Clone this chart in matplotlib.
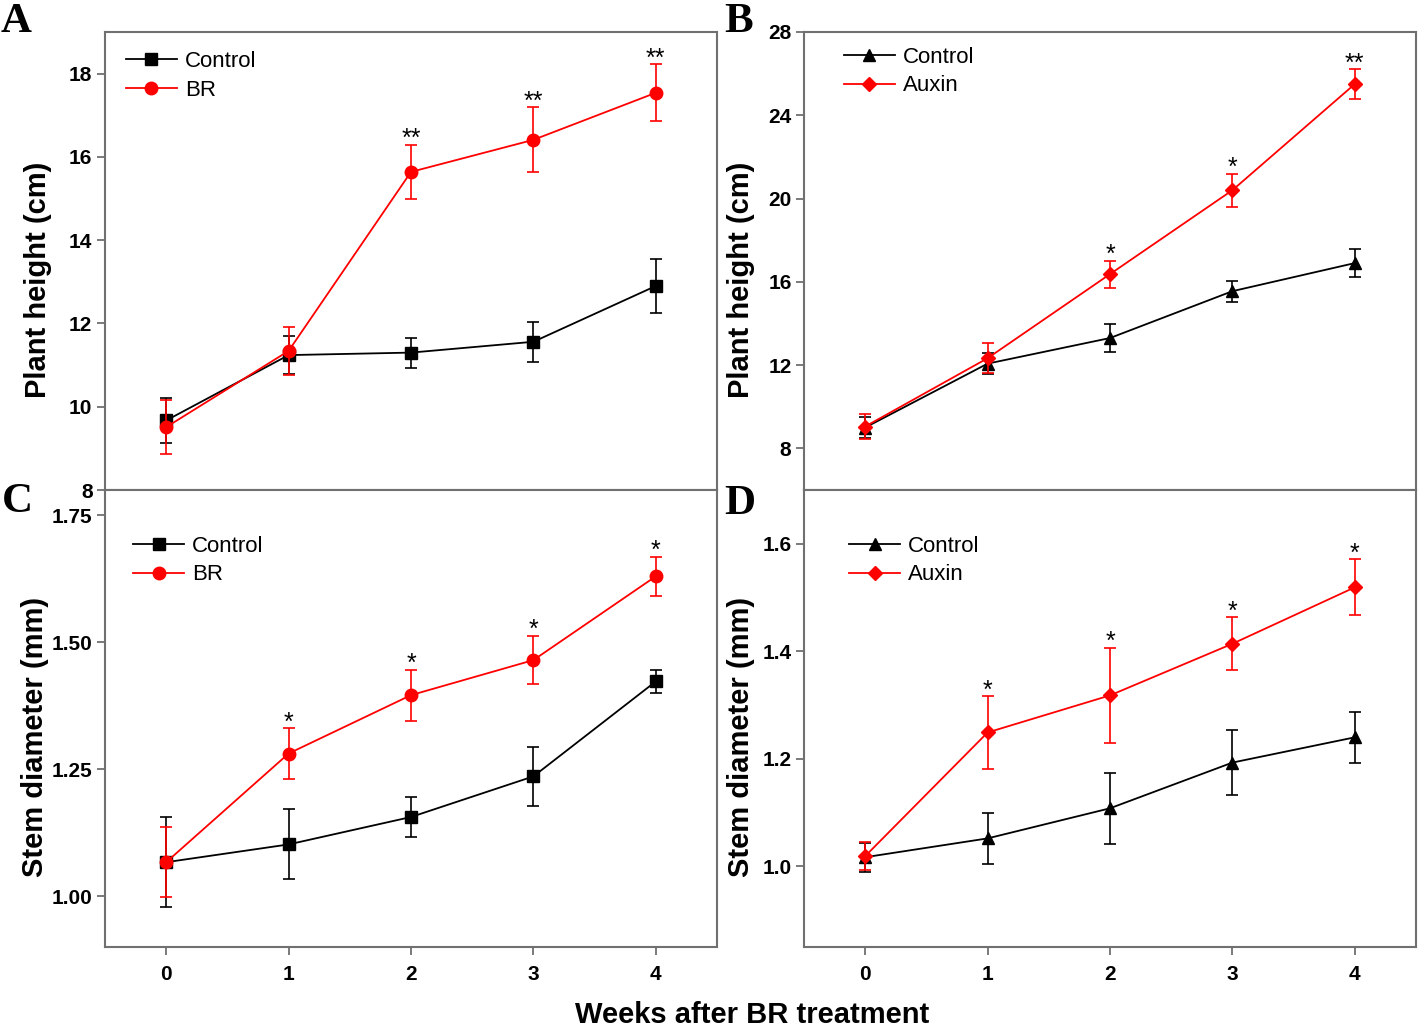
import matplotlib
matplotlib.use("Agg")
import matplotlib.pyplot as plt
import numpy as np

weeks = [0, 1, 2, 3, 4]

# Panel A: plant height (cm), Control vs BR
a_ctrl = [9.67, 11.24, 11.30, 11.56, 12.90]
a_ctrl_err = [0.55, 0.46, 0.36, 0.48, 0.66]
a_br = [9.51, 11.34, 15.64, 16.41, 17.54]
a_br_err = [0.64, 0.57, 0.65, 0.78, 0.68]
a_stars = ["", "", "**", "**", "**"]

# Panel B: plant height (cm), Control vs Auxin
b_ctrl = [9.00, 12.07, 13.30, 15.55, 16.90]
b_ctrl_err = [0.50, 0.50, 0.65, 0.50, 0.68]
b_aux = [9.05, 12.33, 16.37, 20.40, 25.50]
b_aux_err = [0.62, 0.72, 0.65, 0.80, 0.70]
b_stars = ["", "", "*", "*", "**"]

# Panel C: stem diameter (mm), Control vs BR
c_ctrl = [1.067, 1.102, 1.156, 1.236, 1.423]
c_ctrl_err = [0.089, 0.069, 0.039, 0.058, 0.022]
c_br = [1.067, 1.281, 1.396, 1.465, 1.630]
c_br_err = [0.069, 0.050, 0.050, 0.048, 0.039]
c_stars = ["", "*", "*", "*", "*"]

# Panel D: stem diameter (mm), Control vs Auxin
d_ctrl = [1.017, 1.052, 1.108, 1.193, 1.240]
d_ctrl_err = [0.027, 0.047, 0.066, 0.061, 0.047]
d_aux = [1.019, 1.249, 1.318, 1.414, 1.519]
d_aux_err = [0.026, 0.067, 0.089, 0.049, 0.052]
d_stars = ["", "*", "*", "*", "*"]

RED = "#ff0000"
SPINE = "#707070"

fig = plt.figure(figsize=(14.18, 10.27), dpi=100)
W, H = 1418.0, 1027.0

def axes_px(left, top, right, bottom):
    return fig.add_axes([left / W, 1 - bottom / H, (right - left) / W, (bottom - top) / H])

axA = axes_px(105, 32, 717, 490)
axB = axes_px(804, 32, 1416, 490)
axC = axes_px(105, 490, 717, 947)
axD = axes_px(804, 490, 1416, 947)

tick_font = dict(family="Liberation Sans", weight="bold", size=15)

def style(ax, ylim, yticks, yfmt, xlabels):
    ax.set_xlim(-0.5, 4.5)
    ax.set_ylim(*ylim)
    ax.set_xticks(weeks)
    ax.set_yticks(yticks)
    ax.set_yticklabels([yfmt.format(v) for v in yticks], fontdict=tick_font)
    if xlabels:
        ax.set_xticklabels([str(w) for w in weeks], fontdict=tick_font)
    else:
        ax.set_xticklabels([])
    ax.tick_params(axis="both", direction="out", length=6, width=1.3, color=SPINE, pad=3)
    ax.tick_params(axis="x", pad=7)
    for s in ax.spines.values():
        s.set_color(SPINE)
        s.set_linewidth(1.5)

def plot_panel(ax, ctrl, ctrl_err, trt, trt_err, cmark, tmark, cms, tms, tlabel, stars, star_off):
    ax.errorbar(weeks, ctrl, yerr=ctrl_err, fmt="none", ecolor="black",
                elinewidth=1.2, capsize=4.5, capthick=1.2, zorder=3)
    ax.plot(weeks, ctrl, "-" + cmark, color="black", ms=cms, lw=1.3, label="Control", zorder=3)
    ax.errorbar(weeks, trt, yerr=trt_err, fmt="none", ecolor=RED,
                elinewidth=1.2, capsize=4.5, capthick=1.2, zorder=4)
    ax.plot(weeks, trt, "-" + tmark, color=RED, ms=tms, lw=1.3, label=tlabel, zorder=4)
    for x, y, e, s in zip(weeks, trt, trt_err, stars):
        if s:
            ax.annotate(s, (x, y + e), xytext=(0, star_off), textcoords="offset points",
                        ha="center", va="center", fontsize=18, family="Liberation Sans")

plot_panel(axA, a_ctrl, a_ctrl_err, a_br, a_br_err, "s", "o", 8, 9, "BR", a_stars, 4)
plot_panel(axB, b_ctrl, b_ctrl_err, b_aux, b_aux_err, "^", "D", 9, 7.5, "Auxin", b_stars, 4)
plot_panel(axC, c_ctrl, c_ctrl_err, c_br, c_br_err, "s", "o", 8, 9, "BR", c_stars, 4)
plot_panel(axD, d_ctrl, d_ctrl_err, d_aux, d_aux_err, "^", "D", 9, 7.5, "Auxin", d_stars, 4)

style(axA, (8, 19), [8, 10, 12, 14, 16, 18], "{:.0f}", False)
style(axB, (6, 28), [8, 12, 16, 20, 24, 28], "{:.0f}", False)
style(axC, (0.9, 1.8), [1.00, 1.25, 1.50, 1.75], "{:.2f}", True)
style(axD, (0.85, 1.7), [1.0, 1.2, 1.4, 1.6], "{:.1f}", True)

def legend(ax, x, y):
    ax.legend(loc="upper left", bbox_to_anchor=(x, y), frameon=False, borderpad=0,
              borderaxespad=0, handlelength=2.3, handletextpad=0.35, labelspacing=0.35,
              prop=dict(family="Liberation Sans", size=16))

legend(axA, 0.034, 0.958)
legend(axB, 0.065, 0.968)
legend(axC, 0.046, 0.900)
legend(axD, 0.074, 0.900)

lab_font = dict(family="Liberation Sans", weight="bold", size=21)
fig.text(38 / W, 1 - 280 / H, "Plant height (cm)", rotation=90, ha="center", va="center", **lab_font)
fig.text(741 / W, 1 - 280 / H, "Plant height (cm)", rotation=90, ha="center", va="center", **lab_font)
fig.text(35 / W, 1 - 737 / H, "Stem diameter (mm)", rotation=90, ha="center", va="center", **lab_font)
fig.text(741 / W, 1 - 737 / H, "Stem diameter (mm)", rotation=90, ha="center", va="center", **lab_font)
fig.text(752 / W, 1 - 1015 / H, "Weeks after BR treatment", ha="center", va="center", **lab_font)

let_font = dict(family="Liberation Serif", weight="bold", size=31)
fig.text(1 / W, 1 - 22 / H, "A", ha="left", va="center", **let_font)
fig.text(724 / W, 1 - 22 / H, "B", ha="left", va="center", **let_font)
fig.text(2 / W, 1 - 502 / H, "C", ha="left", va="center", **let_font)
fig.text(724 / W, 1 - 504 / H, "D", ha="left", va="center", **let_font)

fig.savefig("out.png", dpi=100)
